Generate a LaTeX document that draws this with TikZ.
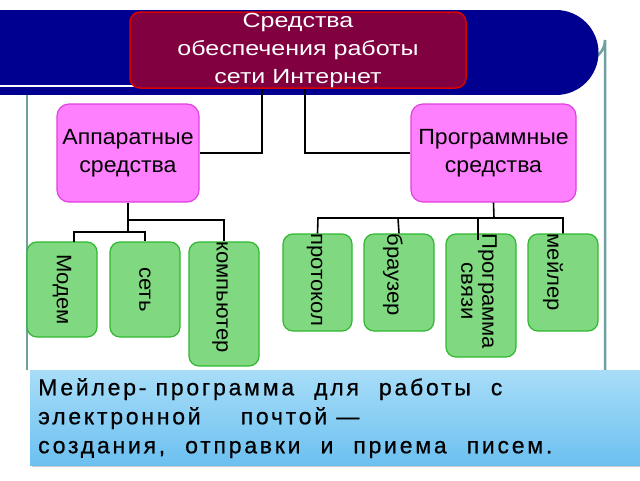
\documentclass[tikz,border=0pt]{standalone}
\usepackage{fontspec}
\setmainfont{Liberation Sans}
\newfontfamily\wideA[FakeStretch=1.22]{Liberation Sans}
\newfontfamily\wideB[FakeStretch=1.05]{Liberation Sans}
\newfontfamily\wideC[FakeStretch=1.05]{Liberation Sans}
\newfontfamily\spaced[LetterSpace=12,FakeBold=0.6]{Liberation Sans}
\usetikzlibrary{shadows}
\definecolor{navy}{HTML}{000090}
\definecolor{teal}{HTML}{6FA0A0}
\definecolor{topf}{HTML}{800040}
\definecolor{pinkf}{HTML}{FF80FF}
\definecolor{pinkd}{HTML}{E040E0}
\definecolor{greenf}{HTML}{80D980}
\definecolor{greend}{HTML}{30B830}
\definecolor{bluet}{HTML}{A8DDF8}
\definecolor{blueb}{HTML}{6CC0F0}
\newcommand{\gap}{\hspace{20pt}}
\begin{document}
\begin{tikzpicture}[x=1pt,y=-1pt,
  pink/.style={draw=pinkd,fill=pinkf,rounded corners=12pt,line width=1.2pt,align=center,font=\wideB\fontsize{22}{28}\selectfont,inner sep=0pt},
  leaf/.style={draw=greend,fill=greenf,rounded corners=10pt,line width=1.2pt,inner sep=0pt},
  lt/.style={rotate=-90,align=center,font=\wideC\fontsize{21}{21}\selectfont,inner sep=0pt},
  con/.style={line width=2.2pt,black},
  con2/.style={line width=1.6pt,black}]
\useasboundingbox (0,0) rectangle (640,480);
\fill[white] (0,0) rectangle (640,480);
% frame
\draw[teal,line width=2.5pt] (27,95) -- (27,370);
\draw[teal,line width=2.5pt] (575,60) -- (585,60) arc[start angle=90,end angle=0,radius=20] -- (605,370);
% banner
\fill[navy] (0,10) rectangle (556,95);
\fill[navy] (556,52.5) circle[radius=42.5];
\draw[white,line width=1.5pt] (0,86) -- (462,86);
% top node
\node[draw=red!85!black,fill=topf,rounded corners=10pt,line width=1.5pt,minimum width=336pt,minimum height=76pt,text=white,align=center,font=\wideA\fontsize{20.5}{28}\selectfont,inner sep=0pt] (top) at (298,50) {Средства\\обеспечения работы\\сети Интернет};
\node[pink,minimum width=142pt,minimum height=98pt] (hw) at (128,153) {Аппаратные\\средства};
\node[pink,minimum width=165pt,minimum height=98pt] (sw) at (493.5,153) {Программные\\средства};
% leaves
\node[leaf,minimum width=70pt,minimum height=95pt] (modem) at (62,289.5) {};
\node[lt] at (modem) {Модем};
\node[leaf,minimum width=70pt,minimum height=95pt] (net) at (145,289.5) {};
\node[lt] at (net) {сеть};
\node[leaf,minimum width=70pt,minimum height=124pt] (pc) at (224,304) {};
\node[lt,anchor=west] at (pc.north) [yshift=-4pt] {компьютер};
\node[leaf,minimum width=69pt,minimum height=97pt] (proto) at (317.5,282.5) {};
\node[lt,anchor=west] at (proto.north) [yshift=-3pt] {протокол};
\node[leaf,minimum width=70pt,minimum height=97pt] (brow) at (399,282.5) {};
\node[lt,anchor=west] at (brow.north) [yshift=-6pt] {браузер};
\node[leaf,minimum width=70pt,minimum height=123pt] (comm) at (481,295.5) {};
\node[lt,anchor=west] at (comm.north) [yshift=-2pt] {Программа\\связи};
\node[leaf,minimum width=70pt,minimum height=97pt] (mail) at (563,282.5) {};
\node[lt,anchor=west] at (mail.north) [yshift=-10pt] {мейлер};
% connectors
\draw[con] (top.south -| 262,0) |- (hw.east);
\draw[con] (top.south -| 305,0) |- (sw.west);
\draw[con2] (hw.south) -- (128,220) -| (pc.north);
\draw[con2] (128,220) -- (128,232);
\draw[con2] (74,242) |- (145,232) -- (net.north);
\draw[con2] (sw.south) -- (494,218);
\draw[con2] (proto.north) -- (318,218) -| (mail.north);
\draw[con2] (398,218) -- (brow.north);
\draw[con2] (478,218) -- (478,240);
% bottom box
\node[draw=none,top color=bluet,bottom color=blueb,drop shadow={shadow xshift=2pt,shadow yshift=-2pt,opacity=0.4},minimum width=610pt,minimum height=95pt,inner sep=0pt] (txt) at (335,417.5) {};
\node[anchor=north west,align=left,font=\spaced\fontsize{23}{29}\selectfont,inner sep=0pt] (t) at (38,378) {Мейлер- программа\gap для\gap работы\gap с\\электронной\gap\gap почтой —\\создания,\gap отправки\gap и\gap приема\gap писем.};
\end{tikzpicture}
\end{document}
